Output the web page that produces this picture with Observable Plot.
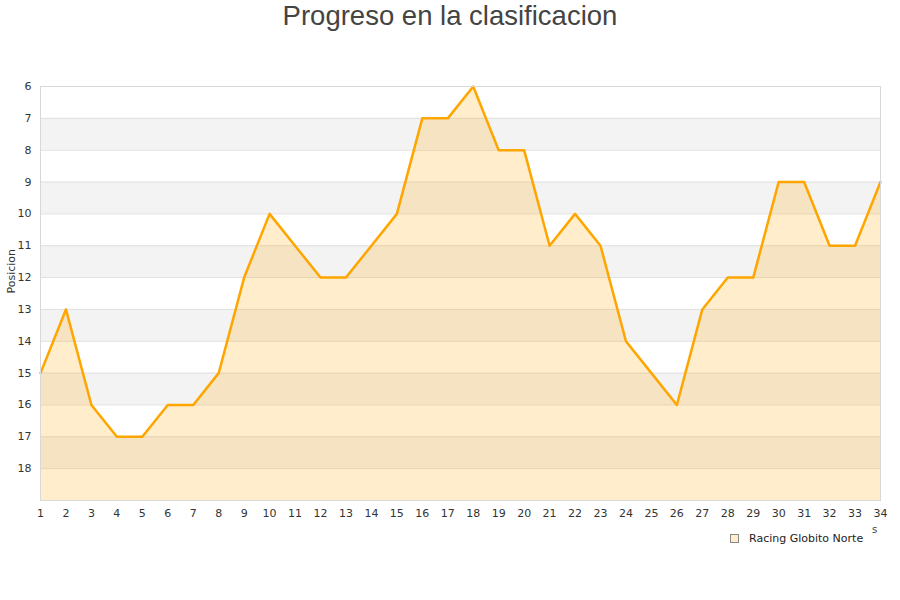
<!DOCTYPE html>
<html>
<head>
<meta charset="utf-8">
<script src="https://cdn.jsdelivr.net/npm/d3@7"></script>
<script src="https://cdn.jsdelivr.net/npm/@observablehq/plot@0.6"></script>
<style>
  body { margin: 0; background: #fff; width: 900px; height: 600px; overflow: hidden; position: relative; }
  #title { height: 40px; text-align: center; font-family: "Liberation Sans", Arial, sans-serif; font-size: 27.5px; color: #444; line-height: 32px; }
  #legend { position: absolute; left: 730px; top: 532px; font-family: "DejaVu Sans", sans-serif; font-size: 11px; color: #222; display: flex; align-items: center; }
  #legend .sw { width: 7px; height: 7px; border: 1px solid #888; background: #ffedcc; margin-right: 10px; }
  #frag { position: absolute; left: 872px; top: 524px; font-family: "DejaVu Sans", sans-serif; font-size: 10px; color: #444; }
</style>
</head>
<body>
<div id="title">Progreso en la clasificacion</div>
<div id="chart"></div>
<div id="legend"><div class="sw"></div><span>Racing Globito Norte</span></div>
<div id="frag">s</div>
<script>
const teamName = "Racing Globito Norte";
const jornadas = d3.range(1, 35);
const posiciones = [15, 13, 16, 17, 17, 16, 16, 15, 12, 10, 11, 12, 12, 11, 10, 7, 7, 6, 8, 8, 11, 10, 11, 14, 15, 16, 13, 12, 12, 9, 9, 11, 11, 9];
const yTicks = [6, 7, 8, 9, 10, 11, 12, 13, 14, 15, 16, 17, 18];
const grayBands = [7, 9, 11, 13, 15, 17];
const yMin = 6, yMax = 19;

const data = jornadas.map((j, i) => ({ j, p: posiciones[i] }));

const chart = Plot.plot({
  width: 900,
  height: 560,
  marginTop: 46,
  marginBottom: 100,
  marginLeft: 40,
  marginRight: 20,
  style: { fontFamily: "DejaVu Sans, sans-serif", fontSize: "11px", color: "#444", background: "transparent" },
  x: { domain: [1, 34], ticks: jornadas, tickSize: 0, tickPadding: 9, label: null, tickFormat: d => String(d) },
  y: { domain: [yMin, yMax], reverse: true, ticks: yTicks, tickSize: 0, tickPadding: 9, label: null },
  marks: [
    Plot.rect(grayBands, { x1: 1, x2: 34, y1: d => d, y2: d => d + 1, fill: "#f3f3f3" }),
    Plot.ruleY(d3.range(7, 19), { stroke: "#e0e0e0", strokeWidth: 1 }),
    Plot.areaY(data, { x: "j", y1: yMax, y2: "p", fill: "#ffa500", fillOpacity: 0.2 }),
    Plot.lineY(data, { x: "j", y: "p", stroke: "#ffa500", strokeWidth: 2.5 }),
    Plot.frame({ stroke: "#d8d8d8" }),
    Plot.axisX({ ticks: jornadas, tickSize: 0, tickPadding: 9, label: null, fill: "#333" }),
    Plot.axisY({ ticks: yTicks, tickSize: 0, tickPadding: 9, label: null, fill: "#333" }),
    Plot.text(["Posicion"], { frameAnchor: "left", dx: -29, rotate: -90, text: d => d, fill: "#333", fontSize: 11 })
  ]
});
document.getElementById("chart").appendChild(chart);
</script>
</body>
</html>
